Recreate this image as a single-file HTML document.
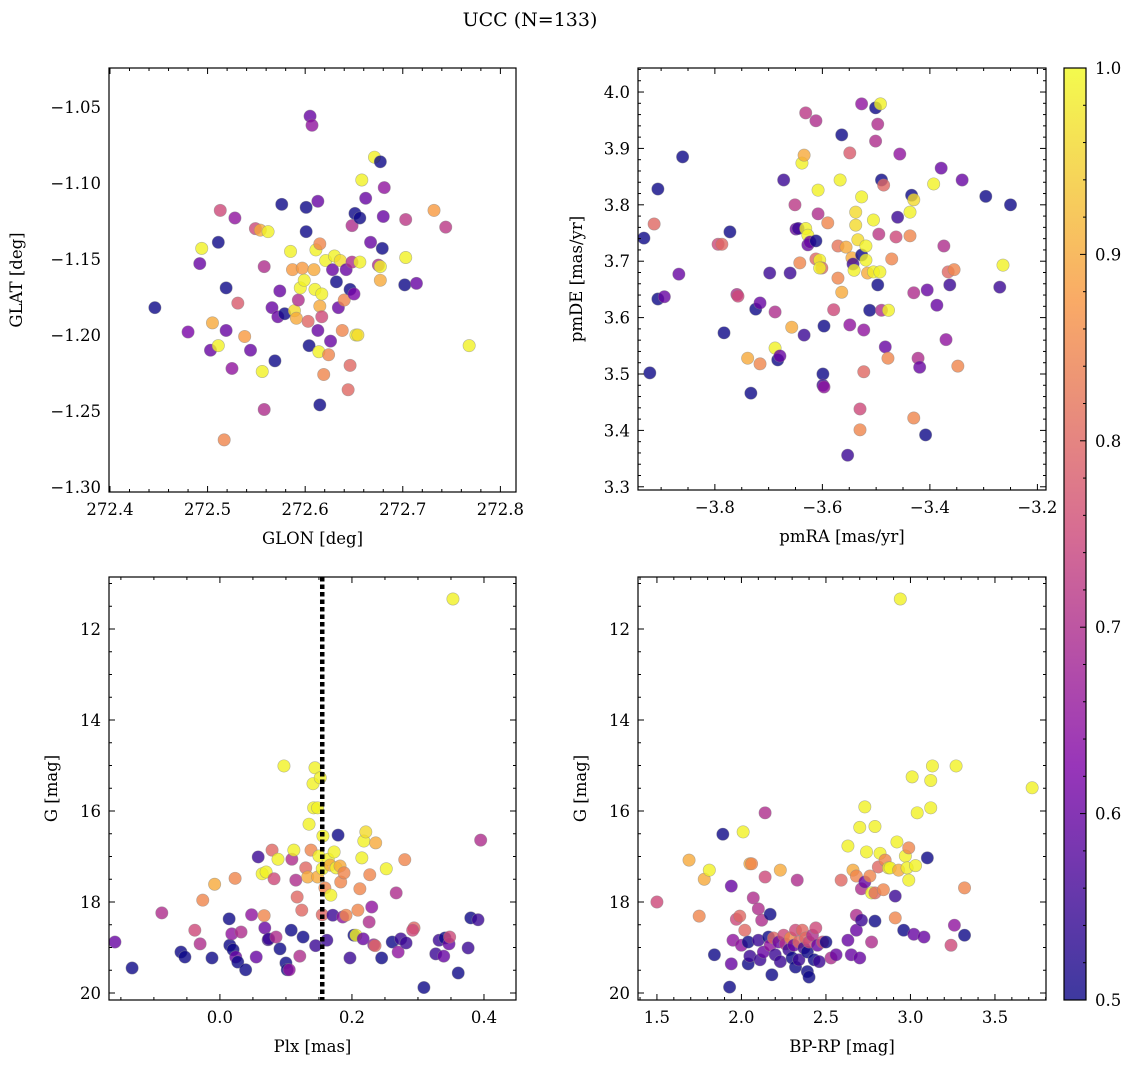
<!DOCTYPE html>
<html><head><meta charset="utf-8"><style>
body{margin:0;background:#fff;}
svg text{font-family:"DejaVu Serif","Liberation Serif",serif;fill:#000;}
</style></head><body>
<svg id="fig" width="1136" height="1067" viewBox="0 0 1136 1067" xmlns="http://www.w3.org/2000/svg">
<text x="530" y="26" font-size="19" text-anchor="middle">UCC (N=133)</text>
</svg>
<script>
// Panel 1: GLON / GLAT / membership prob
const p1Glon=[272.446,272.480,272.492,272.494,272.505,272.503,272.511,272.511,272.513,272.517,272.519,272.519,272.525,272.528,272.531,272.538,272.544,272.549,272.554,272.556,272.558,272.558,272.562,272.566,272.569,272.572,272.574,272.576,272.579,272.585,272.587,272.589,272.591,272.593,272.595,272.597,272.599,272.601,272.601,272.603,272.604,272.605,272.607,272.609,272.610,272.611,272.613,272.613,272.614,272.615,272.615,272.615,272.617,272.617,272.619,272.621,272.624,272.626,272.628,272.630,272.632,272.634,272.636,272.638,272.640,272.642,272.644,272.646,272.646,272.648,272.648,272.650,272.652,272.654,272.656,272.658,272.651,272.656,272.662,272.667,272.671,272.677,272.675,272.677,272.679,272.680,272.677,272.681,272.702,272.703,272.703,272.714,272.732,272.744,272.768];
const p1Glat=[-1.182,-1.198,-1.153,-1.143,-1.192,-1.210,-1.207,-1.139,-1.118,-1.269,-1.197,-1.169,-1.222,-1.123,-1.179,-1.201,-1.210,-1.130,-1.131,-1.224,-1.249,-1.155,-1.132,-1.182,-1.217,-1.188,-1.171,-1.114,-1.186,-1.145,-1.157,-1.184,-1.189,-1.177,-1.169,-1.156,-1.164,-1.132,-1.116,-1.191,-1.207,-1.056,-1.062,-1.157,-1.170,-1.144,-1.112,-1.197,-1.211,-1.246,-1.181,-1.140,-1.173,-1.188,-1.226,-1.151,-1.213,-1.204,-1.157,-1.148,-1.165,-1.182,-1.151,-1.197,-1.177,-1.157,-1.236,-1.220,-1.170,-1.128,-1.152,-1.173,-1.200,-1.200,-1.152,-1.098,-1.120,-1.123,-1.110,-1.139,-1.083,-1.086,-1.154,-1.164,-1.143,-1.122,-1.155,-1.103,-1.167,-1.149,-1.124,-1.166,-1.118,-1.129,-1.207];
const p1Prob=[0.5,0.62,0.6,0.99,0.9,0.6,0.99,0.5,0.75,0.85,0.6,0.5,0.65,0.65,0.78,0.88,0.6,0.75,0.9,0.99,0.7,0.7,0.99,0.6,0.5,0.6,0.6,0.5,0.5,0.99,0.88,0.96,0.9,0.7,0.99,0.88,0.99,0.5,0.5,0.8,0.5,0.6,0.65,0.9,0.99,0.99,0.6,0.6,0.99,0.5,0.9,0.85,0.99,0.75,0.85,0.99,0.85,0.6,0.6,0.99,0.5,0.6,0.96,0.85,0.85,0.6,0.8,0.8,0.5,0.7,0.7,0.62,0.99,0.96,0.99,0.99,0.5,0.5,0.6,0.6,0.99,0.5,0.7,0.9,0.5,0.6,0.99,0.65,0.5,0.99,0.72,0.6,0.88,0.72,0.99];
// Panel 2: pmRA / pmDE
const p2PmRA=[-3.932,-3.921,-3.913,-3.906,-3.906,-3.894,-3.867,-3.860,-3.794,-3.787,-3.783,-3.772,-3.759,-3.757,-3.739,-3.733,-3.724,-3.716,-3.716,-3.688,-3.688,-3.683,-3.679,-3.672,-3.698,-3.660,-3.657,-3.651,-3.649,-3.645,-3.642,-3.634,-3.638,-3.631,-3.634,-3.631,-3.627,-3.627,-3.623,-3.612,-3.612,-3.612,-3.608,-3.608,-3.605,-3.601,-3.605,-3.597,-3.599,-3.599,-3.597,-3.590,-3.579,-3.567,-3.571,-3.571,-3.564,-3.564,-3.556,-3.553,-3.549,-3.549,-3.545,-3.543,-3.541,-3.538,-3.538,-3.534,-3.530,-3.530,-3.527,-3.527,-3.527,-3.523,-3.523,-3.519,-3.519,-3.516,-3.512,-3.505,-3.505,-3.501,-3.501,-3.497,-3.497,-3.495,-3.493,-3.492,-3.490,-3.486,-3.490,-3.483,-3.477,-3.478,-3.471,-3.463,-3.460,-3.456,-3.437,-3.437,-3.434,-3.430,-3.430,-3.430,-3.422,-3.419,-3.408,-3.405,-3.393,-3.387,-3.379,-3.374,-3.370,-3.366,-3.363,-3.355,-3.348,-3.340,-3.296,-3.270,-3.264,-3.250];
const p2PmDE=[3.741,3.502,3.766,3.828,3.633,3.637,3.677,3.885,3.730,3.730,3.573,3.752,3.641,3.638,3.528,3.466,3.615,3.626,3.518,3.610,3.546,3.525,3.532,3.844,3.679,3.679,3.583,3.800,3.757,3.758,3.697,3.569,3.874,3.963,3.888,3.758,3.746,3.729,3.734,3.949,3.736,3.704,3.784,3.826,3.702,3.688,3.688,3.585,3.500,3.480,3.477,3.768,3.614,3.844,3.727,3.670,3.645,3.924,3.725,3.356,3.587,3.892,3.706,3.695,3.684,3.764,3.787,3.738,3.438,3.401,3.979,3.814,3.711,3.578,3.504,3.727,3.702,3.679,3.613,3.681,3.773,3.972,3.913,3.943,3.658,3.748,3.681,3.979,3.844,3.835,3.613,3.548,3.613,3.528,3.704,3.743,3.778,3.890,3.787,3.745,3.817,3.809,3.644,3.422,3.528,3.512,3.392,3.649,3.837,3.622,3.865,3.727,3.561,3.681,3.658,3.685,3.514,3.844,3.815,3.654,3.693,3.800];
const p2Prob=[0.5,0.5,0.8,0.5,0.5,0.6,0.6,0.5,0.75,0.8,0.5,0.5,0.7,0.75,0.9,0.5,0.5,0.6,0.85,0.7,0.99,0.5,0.6,0.55,0.55,0.55,0.9,0.72,0.6,0.55,0.85,0.55,0.99,0.72,0.9,0.99,0.99,0.6,0.6,0.7,0.5,0.8,0.7,0.99,0.99,0.8,0.99,0.5,0.5,0.55,0.65,0.85,0.75,0.99,0.82,0.85,0.9,0.5,0.9,0.55,0.65,0.78,0.9,0.55,0.99,0.96,0.96,0.96,0.75,0.85,0.65,0.99,0.5,0.65,0.8,0.99,0.99,0.9,0.5,0.99,0.99,0.5,0.7,0.7,0.5,0.72,0.99,0.99,0.5,0.8,0.7,0.6,0.99,0.85,0.85,0.75,0.55,0.65,0.99,0.85,0.5,0.96,0.7,0.85,0.7,0.6,0.5,0.6,0.99,0.6,0.6,0.7,0.65,0.8,0.55,0.85,0.85,0.6,0.5,0.55,0.99,0.5];
// Panel 3: Plx / G
const p3Plx=[-0.159,-0.133,-0.088,-0.059,-0.053,-0.038,-0.030,-0.026,-0.012,-0.008,0.014,0.015,0.018,0.020,0.023,0.024,0.027,0.032,0.039,0.048,0.055,0.058,0.064,0.067,0.068,0.070,0.073,0.074,0.079,0.082,0.085,0.088,0.091,0.097,0.100,0.102,0.105,0.108,0.109,0.112,0.115,0.117,0.121,0.124,0.126,0.130,0.133,0.135,0.138,0.141,0.142,0.144,0.145,0.148,0.148,0.150,0.152,0.155,0.155,0.156,0.159,0.162,0.164,0.167,0.168,0.171,0.173,0.176,0.179,0.182,0.183,0.186,0.188,0.191,0.197,0.203,0.206,0.209,0.212,0.215,0.217,0.218,0.221,0.226,0.227,0.230,0.233,0.235,0.236,0.245,0.252,0.261,0.267,0.270,0.274,0.280,0.282,0.294,0.292,0.309,0.327,0.332,0.339,0.341,0.347,0.348,0.353,0.361,0.376,0.380,0.391,0.395];
const p3G=[18.88,19.45,18.24,19.10,19.21,18.62,18.92,17.96,19.23,17.61,18.37,18.95,18.70,19.05,17.48,19.21,19.32,18.66,19.49,18.28,19.21,17.01,17.38,18.30,18.57,17.34,18.83,18.81,16.86,17.49,18.77,17.06,19.03,15.01,19.34,19.49,19.49,18.62,17.06,16.86,17.52,17.89,19.19,18.18,18.77,17.25,17.45,16.29,16.86,15.40,15.93,15.05,18.96,17.45,15.93,16.99,15.27,18.28,17.27,16.55,17.69,18.84,17.06,17.19,17.85,18.29,16.90,17.25,16.53,17.21,17.56,18.33,17.36,18.29,19.23,18.73,18.73,18.18,17.71,17.03,18.81,16.66,16.46,18.44,17.40,18.11,18.94,18.96,16.70,19.23,17.27,18.88,17.80,19.10,18.81,17.07,18.90,18.57,18.62,19.88,19.14,18.84,19.19,18.79,18.92,18.77,11.34,19.56,19.01,18.35,18.39,16.64];
const p3Prob=[0.6,0.5,0.7,0.5,0.5,0.75,0.7,0.85,0.5,0.9,0.5,0.5,0.65,0.5,0.85,0.6,0.5,0.7,0.5,0.65,0.6,0.55,0.99,0.85,0.6,0.99,0.55,0.55,0.8,0.75,0.7,0.99,0.5,0.99,0.5,0.5,0.65,0.5,0.7,0.99,0.7,0.8,0.7,0.8,0.5,0.8,0.9,0.99,0.85,0.99,0.99,0.99,0.55,0.9,0.99,0.99,0.99,0.8,0.99,0.99,0.85,0.55,0.99,0.9,0.99,0.55,0.99,0.99,0.5,0.9,0.85,0.65,0.85,0.85,0.55,0.5,0.99,0.85,0.85,0.99,0.6,0.99,0.96,0.7,0.85,0.65,0.65,0.8,0.9,0.5,0.99,0.5,0.7,0.65,0.55,0.85,0.55,0.8,0.75,0.5,0.55,0.55,0.6,0.5,0.6,0.75,0.99,0.5,0.55,0.5,0.55,0.7];
// Panel 4: BP-RP / G
const p4BpRp=[1.50,1.69,1.75,1.78,1.81,1.84,1.89,1.93,1.94,1.94,1.95,1.97,1.99,2.00,2.01,2.02,2.05,2.06,2.04,2.04,2.05,2.07,2.10,2.10,2.11,2.12,2.13,2.14,2.14,2.16,2.17,2.17,2.18,2.19,2.20,2.22,2.23,2.23,2.25,2.26,2.28,2.29,2.30,2.31,2.32,2.32,2.33,2.34,2.34,2.36,2.37,2.38,2.39,2.39,2.40,2.40,2.42,2.43,2.44,2.45,2.46,2.48,2.50,2.53,2.56,2.59,2.63,2.63,2.65,2.66,2.68,2.68,2.68,2.70,2.70,2.71,2.71,2.73,2.73,2.74,2.76,2.77,2.77,2.79,2.79,2.79,2.81,2.82,2.84,2.85,2.87,2.88,2.91,2.91,2.92,2.93,2.94,2.96,2.97,2.98,2.99,2.99,3.01,3.02,3.03,3.04,3.08,3.12,3.12,3.10,3.13,3.27,3.24,3.26,3.32,3.32,3.72];
const p4G=[18.00,17.08,18.31,17.50,17.30,19.16,16.51,19.87,19.36,17.65,18.84,18.38,18.31,18.95,16.46,18.62,17.16,17.16,18.88,19.36,19.19,17.91,18.15,18.84,19.27,18.40,19.10,17.45,16.04,18.77,18.27,18.95,19.60,18.79,19.16,18.88,17.30,19.31,18.73,18.92,19.05,18.79,19.23,18.95,18.62,19.43,17.52,18.88,19.27,18.62,19.01,18.79,19.10,19.53,18.88,19.65,18.73,19.27,18.57,18.95,19.31,18.88,18.88,19.23,19.16,17.52,16.77,18.84,19.16,17.30,18.62,18.29,17.43,19.23,16.36,17.71,18.40,15.91,17.56,16.90,17.43,17.80,18.88,16.34,17.80,18.42,17.23,16.93,17.73,17.08,17.25,17.25,17.87,18.35,16.68,17.30,11.34,18.62,16.99,17.25,16.81,17.52,15.25,18.71,17.20,16.04,18.77,15.33,15.93,17.03,15.01,15.01,18.95,18.51,18.73,17.69,15.49];
const p4Prob=[0.75,0.9,0.85,0.9,0.99,0.5,0.5,0.5,0.6,0.6,0.65,0.75,0.8,0.65,0.99,0.8,0.9,0.85,0.5,0.5,0.55,0.7,0.7,0.55,0.55,0.7,0.6,0.75,0.7,0.5,0.5,0.65,0.5,0.8,0.55,0.6,0.9,0.55,0.75,0.7,0.55,0.85,0.5,0.6,0.75,0.5,0.7,0.8,0.55,0.8,0.55,0.8,0.5,0.5,0.75,0.5,0.7,0.5,0.75,0.6,0.55,0.75,0.5,0.7,0.6,0.8,0.99,0.6,0.6,0.9,0.6,0.7,0.85,0.6,0.99,0.7,0.55,0.99,0.6,0.99,0.85,0.99,0.7,0.99,0.8,0.5,0.8,0.99,0.85,0.85,0.99,0.99,0.55,0.85,0.99,0.9,0.99,0.5,0.99,0.99,0.85,0.99,0.99,0.6,0.99,0.99,0.6,0.99,0.99,0.5,0.99,0.99,0.75,0.65,0.5,0.85,0.99];
const plxLine=0.155;
const p1XTicks=[272.4,272.5,272.6,272.7,272.8], p1YTicks=[-1.05,-1.10,-1.15,-1.20,-1.25,-1.30];
const p2XTicks=[-3.8,-3.6,-3.4,-3.2], p2YTicks=[3.3,3.4,3.5,3.6,3.7,3.8,3.9,4.0];
const p3XTicks=[0.0,0.2,0.4], gTicks=[12,14,16,18,20];
const p4XTicks=[1.5,2.0,2.5,3.0,3.5];
const cbTicks=[0.5,0.6,0.7,0.8,0.9,1.0];

const NS="http://www.w3.org/2000/svg";
const svg=document.getElementById('fig');
function mk(tag,attrs,parent){const e=document.createElementNS(NS,tag);for(const k in attrs)e.setAttribute(k,attrs[k]);(parent||svg).appendChild(e);return e;}
const stops=[[13,8,135],[126,3,168],[204,71,120],[248,149,64],[240,249,33]];
function plasma(t){t=Math.max(0,Math.min(1,t))*4;const i=Math.min(3,Math.floor(t)),f=t-i;const a=stops[i],b=stops[i+1];
 return 'rgb('+a.map((v,k)=>Math.round(v+(b[k]-v)*f)).join(',')+')';}
function cnorm(p){return (p-0.5)/0.5;}

function panel(o){
 const g=mk('g',{});
 
 
 const sx=v=>o.x0+(v-o.xmin)/(o.xmax-o.xmin)*(o.x1-o.x0);
 const sy=o.yinv?(v=>o.y0+(v-o.ymin)/(o.ymax-o.ymin)*(o.y1-o.y0)):(v=>o.y1-(v-o.ymin)/(o.ymax-o.ymin)*(o.y1-o.y0));
 const clip=mk('clipPath',{id:o.name+'-clip'},g);mk('rect',{x:o.x0,y:o.y0,width:o.x1-o.x0,height:o.y1-o.y0},clip);
 const pts=mk('g',{'clip-path':'url(#'+o.name+'-clip)'},g);
 for(let i=0;i<o.xs.length;i++){
  const c=mk('circle',{cx:sx(o.xs[i]),cy:sy(o.ys[i]),r:6.2,fill:plasma(cnorm(o.cs[i])),'fill-opacity':0.8,stroke:'#888','stroke-opacity':0.6,'stroke-width':0.6},pts);
  
  
 }
 if(o.vline!==undefined){const l=mk('line',{x1:sx(o.vline),x2:sx(o.vline),y1:o.y0,y2:o.y1,stroke:'#000','stroke-width':4.5,'stroke-dasharray':'4.5 3'},g);
  
  }
 const fr=mk('rect',{x:o.x0,y:o.y0,width:o.x1-o.x0,height:o.y1-o.y0,fill:'none',stroke:'#000','stroke-width':1.2},g);
 
 
 const tk=mk('g',{stroke:'#000','stroke-width':1},g);
 const xs=o.xt, ys=o.yt;
 const xstep=xs[1]-xs[0], ystep=ys[1]-ys[0];
 for(let v=xs[0]-xstep*2;v<=xs[xs.length-1]+xstep*2+1e-9;v+=xstep/o.xm){
  if(v<Math.min(o.xmin,o.xmax)-1e-9||v>Math.max(o.xmin,o.xmax)+1e-9)continue;
  const maj=xs.some(t=>Math.abs(t-v)<xstep*1e-3);const L=maj?6:3;const x=sx(v);
  mk('line',{x1:x,x2:x,y1:o.y1,y2:o.y1-L},tk);mk('line',{x1:x,x2:x,y1:o.y0,y2:o.y0+L},tk);
 }
 for(let v=ys[0]-ystep*2;v<=ys[ys.length-1]+ystep*2+1e-9;v+=ystep/o.ym){
  if(v<Math.min(o.ymin,o.ymax)-1e-9||v>Math.max(o.ymin,o.ymax)+1e-9)continue;
  const maj=ys.some(t=>Math.abs(t-v)<Math.abs(ystep)*1e-3);const L=maj?6:3;const y=sy(v);
  mk('line',{x1:o.x0,x2:o.x0+L,y1:y,y2:y},tk);mk('line',{x1:o.x1,x2:o.x1-L,y1:y,y2:y},tk);
 }
 xs.forEach(v=>{const t=mk('text',{x:sx(v),y:o.y1+23,'font-size':16.5,'text-anchor':'middle'},g);t.textContent=o.xf(v).replace('-','\u2212');
  
  });
 ys.forEach(v=>{const t=mk('text',{x:o.x0-8,y:sy(v)+6,'font-size':16.5,'text-anchor':'end'},g);t.textContent=o.yf(v).replace('-','\u2212');
  
  });
 const xl=mk('text',{x:(o.x0+o.x1)/2,y:o.y1+52,'font-size':16.5,'text-anchor':'middle'},g);xl.textContent=o.xl;
 
 
 const yl=mk('text',{x:0,y:0,'font-size':16.5,'text-anchor':'middle',transform:'translate('+(o.ylx)+','+((o.y0+o.y1)/2)+') rotate(-90)'},g);yl.textContent=o.yl;
 
 
}
panel({name:'glon-glat-panel',x0:109,x1:516,y0:68,y1:492,xmin:272.399,xmax:272.816,ymin:-1.3033,ymax:-1.0243,xs:p1Glon,ys:p1Glat,cs:p1Prob,xt:p1XTicks,yt:p1YTicks,xm:5,ym:5,xf:v=>v.toFixed(1),yf:v=>v.toFixed(2),xl:'GLON [deg]',yl:'GLAT [deg]',ylx:22});
panel({name:'pm-panel',x0:638,x1:1046,y0:68,y1:490,xmin:-3.943,xmax:-3.184,ymin:3.2943,ymax:4.0426,xs:p2PmRA,ys:p2PmDE,cs:p2Prob,xt:p2XTicks,yt:p2YTicks,xm:4,ym:5,xf:v=>v.toFixed(1),yf:v=>v.toFixed(1),xl:'pmRA [mas/yr]',yl:'pmDE [mas/yr]',ylx:582});
panel({name:'plx-g-panel',x0:109,x1:516,y0:577,y1:1000,xmin:-0.168,xmax:0.4485,ymin:10.857,ymax:20.154,yinv:true,xs:p3Plx,ys:p3G,cs:p3Prob,xt:p3XTicks,yt:gTicks,xm:4,ym:4,xf:v=>v.toFixed(1),yf:v=>String(v),xl:'Plx [mas]',yl:'G [mag]',ylx:57,vline:plxLine});
panel({name:'cmd-panel',x0:638,x1:1046,y0:577,y1:1000,xmin:1.388,xmax:3.802,ymin:10.857,ymax:20.154,yinv:true,xs:p4BpRp,ys:p4G,cs:p4Prob,xt:p4XTicks,yt:gTicks,xm:5,ym:4,xf:v=>v.toFixed(1),yf:v=>String(v),xl:'BP-RP [mag]',yl:'G [mag]',ylx:586});

// colorbar
const cb=mk('g',{});


const defs=mk('defs',{},cb);const lg=mk('linearGradient',{id:'cbg',x1:0,y1:1,x2:0,y2:0},defs);
for(let i=0;i<=20;i++)mk('stop',{offset:(i/20),'stop-color':plasma(i/20),'stop-opacity':0.8},lg);
mk('rect',{x:1064,y:68,width:22,height:932,fill:'url(#cbg)',stroke:'#000','stroke-width':1.2},cb);
const cy=v=>1000-(v-0.5)/0.5*932;
for(let v=0.5;v<=1.0001;v+=0.02){const maj=Math.abs(Math.round(v*10)-v*10)<1e-6;mk('line',{x1:1086,x2:1086-(maj?6:3),y1:cy(v),y2:cy(v),stroke:'#000'},cb);}
cbTicks.forEach(v=>{const t=mk('text',{x:1095,y:cy(v)+6,'font-size':16.5},cb);t.textContent=v.toFixed(1);
 
 });
</script>
</body></html>
